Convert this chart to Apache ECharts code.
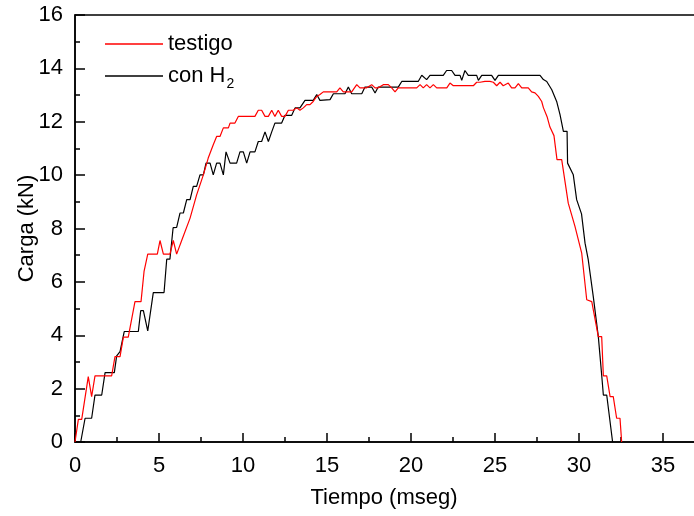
<!DOCTYPE html>
<html>
<head>
<meta charset="utf-8">
<script src="https://cdn.jsdelivr.net/npm/echarts@6/dist/echarts.min.js"></script>
<style>
html,body{margin:0;padding:0;background:#fff;}
#chart{width:694px;height:516px;}
</style>
</head>
<body>
<div id="chart"></div>
<script>
// ---- data (time in ms, load in kN) ----
var seriesNames = ['testigo', 'con H2'];

var tRed = [0,0.2,0.4,0.79,0.99,1.19,2.18,2.38,2.68,2.88,3.17,3.57,3.93,4.11,4.33,4.9,5.06,5.26,5.65,5.85,6.05,6.35,6.45,6.85,7.24,7.64,7.93,8.23,8.43,8.63,8.83,9.13,9.23,9.52,9.72,10.71,10.91,11.11,11.31,11.51,11.71,11.9,12.1,12.3,12.5,12.7,12.99,13.2,13.39,13.59,13.79,13.99,14.18,14.39,14.58,14.78,15.58,15.77,15.97,16.47,16.77,16.96,17.36,17.66,17.86,18.05,18.35,18.65,18.85,19.05,19.24,20.34,20.54,20.73,20.93,21.13,21.33,21.53,22.13,22.32,22.52,23.71,23.91,24.11,24.4,24.7,24.9,25.1,25.3,25.49,25.79,25.99,26.19,26.39,26.59,26.98,27.18,27.38,27.58,27.78,27.88,28.1,28.27,28.51,28.69,28.97,29.36,29.76,30.16,30.46,30.76,31.15,31.35,31.45,31.65,31.85,32.04,32.24,32.44,32.54];
var vRed = [0,0.85,0.85,2.45,1.7,2.48,2.48,3.2,3.2,3.93,3.93,5.26,5.26,6.39,7.04,7.04,7.55,7.04,7.04,7.55,7.04,7.55,7.55,8.39,9.26,10.01,10.64,11.14,11.45,11.45,11.77,11.77,11.95,11.95,12.2,12.2,12.43,12.43,12.2,12.2,12.43,12.2,12.43,12.2,12.2,12.43,12.43,12.52,12.43,12.52,12.64,12.64,12.76,12.95,13.02,13.12,13.12,13.27,13.12,13.12,13.39,13.27,13.27,13.39,13.27,13.27,13.39,13.39,13.27,13.12,13.27,13.27,13.39,13.27,13.39,13.27,13.39,13.27,13.27,13.45,13.35,13.35,13.48,13.48,13.51,13.51,13.48,13.35,13.48,13.35,13.45,13.27,13.27,13.43,13.27,13.27,13.12,13.08,12.95,12.76,12.53,12.19,11.8,11.48,10.58,10.58,8.95,8.08,7.08,5.33,5.26,3.95,3.95,2.48,2.48,1.7,1.7,0.89,0.89,0];

var tBlack = [0,0.34,0.6,0.99,1.19,1.59,1.79,2.34,2.48,2.68,2.78,2.93,3.77,3.91,4.07,4.33,4.66,5.3,5.46,5.65,5.84,6.05,6.25,6.45,6.65,6.85,7.04,7.24,7.44,7.64,7.8,8.04,8.23,8.43,8.63,8.83,8.99,9.23,9.62,9.82,10.02,10.22,10.42,10.71,10.91,11.11,11.31,11.51,11.71,11.9,12.3,12.5,12.9,13.1,13.39,13.69,14.18,14.39,14.58,15.18,15.38,16.07,16.27,16.47,17.07,17.26,17.66,17.86,18.05,19.24,19.45,20.43,20.64,20.93,21.13,21.92,22.12,22.42,22.62,22.92,23.02,23.21,23.41,23.91,24.01,24.21,24.8,25.0,25.2,27.68,27.88,28.08,28.38,28.67,28.87,29.07,29.29,29.32,29.66,29.86,30.15,30.36,30.55,30.85,31.15,31.35,31.45,31.65,32.0];
var vBlack = [0,0,0.89,0.89,1.76,1.76,2.6,2.6,3.23,3.39,3.39,4.14,4.14,4.92,4.92,4.16,5.6,5.6,6.85,6.85,8.03,8.04,8.58,8.58,9.08,9.08,9.58,9.58,10.01,10.01,10.45,10.45,10.01,10.45,10.45,10.01,10.87,10.45,10.45,10.87,10.87,10.45,10.87,10.87,11.26,11.26,11.62,11.26,11.62,11.95,11.95,12.24,12.24,12.52,12.52,12.8,12.8,13.02,12.8,12.83,13.05,13.05,13.3,13.05,13.05,13.3,13.3,13.08,13.3,13.3,13.51,13.51,13.74,13.58,13.74,13.74,13.92,13.92,13.74,13.74,13.55,13.92,13.74,13.74,13.55,13.74,13.74,13.55,13.74,13.74,13.58,13.51,13.2,12.76,12.27,11.64,11.64,10.45,10.01,9.08,8.55,7.45,6.83,5.45,3.95,2.51,1.76,1.76,0];

// axes
var xMin = 0, xMax = 40, xInterval = 5;
var yMin = 0, yMax = 16, yInterval = 2;
var xTitle = 'Tiempo (mseg)';
var yTitle = 'Carga (kN)';

function pairs(ts, vs) { return ts.map(function (t, i) { return [t, vs[i]]; }); }

var FONT = 'Liberation Sans, Arial, sans-serif';
var chart = echarts.init(document.getElementById('chart'), null, {renderer: 'canvas'});
chart.setOption({
  animation: false,
  backgroundColor: '#ffffff',
  grid: {
    left: 75, top: 15, bottom: 74, right: -53,
    containLabel: false, outerBoundsMode: 'none',
    show: true, borderColor: '#000', borderWidth: 1.5, backgroundColor: 'transparent'
  },
  legend: {
    orient: 'vertical',
    left: 100, top: 28,
    itemWidth: 58, itemHeight: 1.3, itemGap: 10,
    icon: 'rect',
    data: seriesNames,
    formatter: function (n) { return n === 'con H2' ? 'con H{s|2}' : n; },
    textStyle: {
      fontFamily: FONT, fontSize: 22, color: '#000', lineHeight: 22, padding: [0, 0, 0, 0],
      rich: { s: { fontFamily: FONT, fontSize: 14, color: '#000', verticalAlign: 'bottom', lineHeight: 14, padding: [0, 0, -4, 1] } }
    }
  },
  xAxis: {
    type: 'value', min: xMin, max: xMax, interval: xInterval,
    name: xTitle, nameLocation: 'middle', nameGap: 45, nameMoveOverlap: false,
    nameTextStyle: { fontFamily: FONT, fontSize: 22, color: '#000', padding: [0, 54, 0, 0] },
    axisLine: { show: true, onZero: false, lineStyle: { color: '#000', width: 1.5 } },
    axisTick: { show: true, inside: true, length: 9, lineStyle: { color: '#000', width: 1.5 } },
    minorTick: { show: true, splitNumber: 2, length: 5, lineStyle: { color: '#000', width: 1.5 } },
    axisLabel: { fontFamily: FONT, fontSize: 22, color: '#000', margin: 13 },
    splitLine: { show: false }
  },
  yAxis: {
    type: 'value', min: yMin, max: yMax, interval: yInterval,
    name: yTitle, nameLocation: 'middle', nameGap: 37, nameRotate: 90, nameMoveOverlap: false,
    nameTextStyle: { fontFamily: FONT, fontSize: 22, color: '#000' },
    axisLine: { show: true, onZero: false, lineStyle: { color: '#000', width: 1.5 } },
    axisTick: { show: true, inside: true, length: 10, lineStyle: { color: '#000', width: 1.5 } },
    minorTick: { show: true, splitNumber: 2, length: 5, lineStyle: { color: '#000', width: 1.5 } },
    axisLabel: { fontFamily: FONT, fontSize: 22, color: '#000', margin: 12 },
    splitLine: { show: false }
  },
  series: [
    { name: seriesNames[0], type: 'line', data: pairs(tRed, vRed), showSymbol: false, symbol: 'none',
      color: '#ff0000', lineStyle: { color: '#ff0000', width: 1.2 }, z: 3 },
    { name: seriesNames[1], type: 'line', data: pairs(tBlack, vBlack), showSymbol: false, symbol: 'none',
      color: '#000000', lineStyle: { color: '#000000', width: 1.2 }, z: 2 }
  ]
});
</script>
</body>
</html>
